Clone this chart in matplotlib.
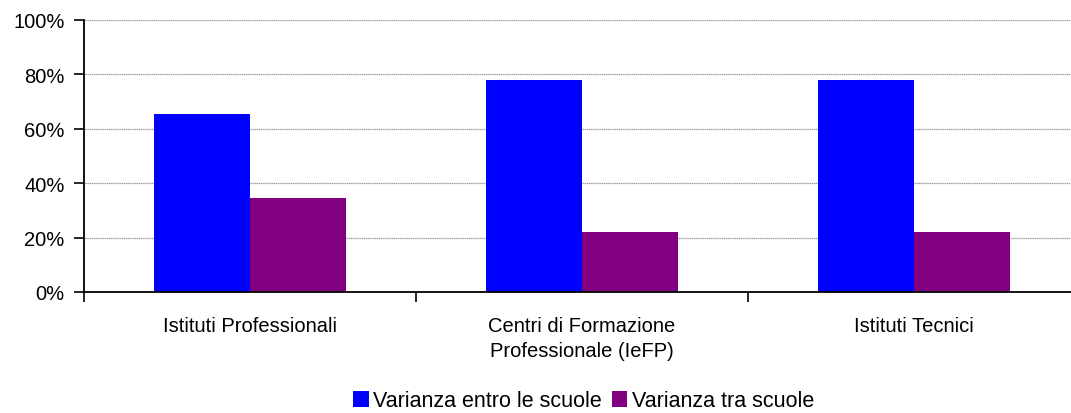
import matplotlib
matplotlib.use('Agg')
import numpy as np
import matplotlib.pyplot as plt
from matplotlib.ticker import PercentFormatter
from matplotlib.patches import Patch

# ------------ Data ---------------
categories = ['Istituti Professionali',
              'Centri di Formazione\nProfessionale (IeFP)',
              'Istituti Tecnici']
entro = [65.3, 77.8, 77.8]     # Varianza entro le scuole
tra = [34.7, 22.2, 22.2]       # Varianza tra scuole
series_names = ['Varianza entro le scuole', 'Varianza tra scuole']
colors = ['#0000FF', '#800080']

plt.rcParams['font.family'] = ['Liberation Sans', 'DejaVu Sans']

# ------------ Plot ---------------
fig = plt.figure(figsize=(10.71, 4.14), dpi=100)
ax = fig.add_axes([84 / 1071, 1 - 293 / 414, 996 / 1071, 272 / 414])

x = np.arange(len(categories))
w = 0.288
ax.bar(x - w / 2, entro, w, color=colors[0], zorder=3)
ax.bar(x + w / 2, tra, w, color=colors[1], zorder=3)

ax.set_xlim(-0.5, len(categories) - 0.5)
ax.set_ylim(0, 100)
ax.set_yticks(np.arange(0, 101, 20))
ax.yaxis.set_major_formatter(PercentFormatter(decimals=0))
ax.grid(axis='y', color='#999999', linestyle=(0, (1, 0.5)), linewidth=0.9, zorder=0)

# category boundaries as ticks, labels in the middle
ax.set_xticks(np.arange(-0.5, len(categories), 1))
ax.set_xticklabels([])
ax.set_xticks(x, minor=True)
ax.set_xticklabels(categories, minor=True, fontsize=14.5, linespacing=1.45)
ax.tick_params(axis='x', which='minor', length=0, pad=17)
ax.tick_params(axis='x', which='major', length=7, width=1.2, color='black')
ax.tick_params(axis='y', length=7, width=1.2, labelsize=14.5, pad=7)

for s in ['top', 'right']:
    ax.spines[s].set_visible(False)
for s in ['left', 'bottom']:
    ax.spines[s].set_linewidth(1.3)
    ax.spines[s].set_zorder(4)

handles = [Patch(facecolor=c) for c in colors]
fig.legend(handles, series_names, loc='center', bbox_to_anchor=(0.545, 1 - 402 / 414),
           ncol=2, frameon=False, fontsize=15.5, handlelength=0.7, handleheight=0.7,
           handletextpad=0.2, columnspacing=0.5, borderaxespad=0)

fig.savefig('out.png', dpi=100)
